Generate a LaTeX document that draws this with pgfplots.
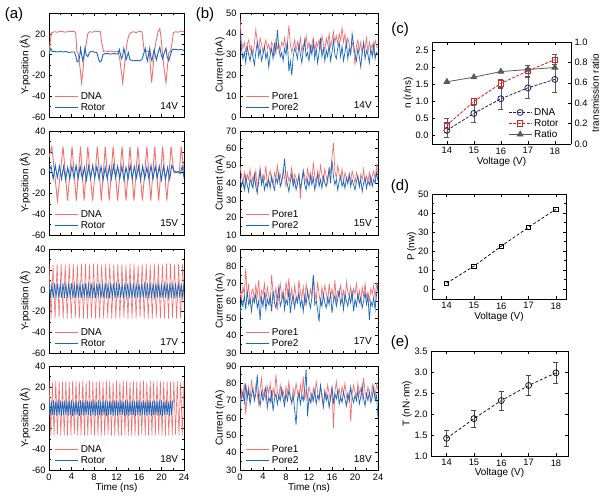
\documentclass[border=0pt]{standalone}
\usepackage{fontspec}
\setmainfont{Liberation Sans}
\usepackage{pgfplots}
\usepackage{pgfplotstable}
\pgfplotsset{compat=1.18}
\definecolor{dna}{RGB}{243,112,112}
\definecolor{rot}{RGB}{22,104,192}
\definecolor{cnavy}{RGB}{30,32,100}
\definecolor{cred}{RGB}{232,30,30}
\definecolor{cgray}{RGB}{90,90,90}
\newcommand{\tf}{\fontsize{9.3}{10}\selectfont}
\newcommand{\lf}{\fontsize{10}{11}\selectfont}

% ---- (a) dense series, sampled at regular steps ----
\pgfplotstableread[header=false,row sep=\\]{26\\-27\\25\\-27\\26\\-26\\26\\-27\\25\\-27\\26\\-27\\26\\-26\\25\\-27\\26\\-27\\26\\-27\\25\\-26\\26\\-27\\26\\-27\\25\\-27\\26\\-26\\26\\-27\\25\\-27\\26\\-27\\26\\-26\\25\\-27\\26\\-27\\26\\-27\\25\\-26\\26\\-27\\26\\-27\\25\\-27\\26\\-26\\26\\-27\\25\\-27\\26\\-27\\26\\-26\\25\\-27\\26\\-27\\26\\-27\\}\dnaC
\pgfplotstableread[header=false,row sep=\\]{26\\-27\\25\\-27\\26\\-26\\26\\-27\\25\\-27\\26\\-27\\25\\-27\\26\\-26\\26\\-27\\25\\-27\\26\\-27\\25\\-27\\26\\-26\\26\\-27\\25\\-27\\26\\-27\\25\\-27\\26\\-26\\26\\-27\\25\\-27\\26\\-27\\25\\-27\\26\\-26\\26\\-27\\25\\-27\\26\\-27\\25\\-27\\26\\-26\\26\\-27\\25\\-27\\26\\-27\\25\\-27\\26\\-26\\26\\-27\\25\\-27\\26\\-27\\25\\-27\\26\\-26\\26\\-27\\25\\-27\\26\\}\dnaD
\pgfplotstableread[header=false,row sep=\\]{2\\6\\-6\\7\\-5\\6\\-6\\6\\-7\\5\\-6\\6\\-5\\7\\-6\\6\\-6\\5\\-7\\6\\-6\\7\\-5\\6\\-6\\6\\-7\\5\\-6\\6\\-6\\7\\-5\\6\\-6\\6\\-7\\5\\-6\\7\\-6\\6\\-5\\6\\-7\\6\\-6\\5\\-6\\7\\-6\\6\\-5\\6\\-7\\6\\-6\\5\\-6\\7\\2\\0\\1\\-1\\6\\-6\\}\rotB
\pgfplotstableread[header=false,row sep=\\]{7\\-7\\6\\-7\\7\\-6\\7\\-7\\6\\-7\\7\\-7\\6\\-7\\7\\-6\\7\\-7\\6\\-7\\7\\-7\\6\\-7\\7\\-6\\7\\-7\\6\\-7\\7\\-7\\6\\-7\\7\\-6\\7\\-7\\6\\-7\\7\\-7\\6\\-7\\7\\-6\\7\\-7\\6\\-7\\7\\-7\\6\\-7\\7\\-6\\7\\-7\\6\\-7\\7\\-7\\6\\-7\\7\\-6\\7\\-7\\6\\-7\\7\\-7\\6\\-7\\7\\-6\\7\\-7\\6\\-7\\7\\-7\\6\\-7\\7\\-6\\7\\-7\\6\\-7\\7\\-7\\6\\-7\\7\\-6\\7\\}\rotC
\pgfplotstableread[header=false,row sep=\\]{7\\-8\\6\\-7\\7\\-7\\6\\-8\\7\\-7\\7\\-8\\6\\-7\\7\\-7\\6\\-8\\7\\-7\\7\\-8\\6\\-7\\7\\-7\\6\\-8\\7\\-7\\7\\-8\\6\\-7\\7\\-7\\6\\-8\\7\\-7\\7\\-8\\6\\-7\\7\\-7\\6\\-8\\7\\-7\\7\\-8\\6\\-7\\7\\-7\\6\\-8\\7\\-7\\7\\-8\\6\\-7\\7\\-7\\6\\-8\\7\\-7\\7\\-8\\6\\-7\\7\\-7\\6\\-8\\7\\-7\\7\\-8\\6\\-7\\7\\-7\\6\\-8\\7\\-7\\7\\-8\\6\\-7\\7\\-7\\6\\-8\\7\\-7\\7\\-8\\6\\-7\\7\\-7\\6\\-8\\7\\-7\\7\\}\rotD
% ---- (b) currents, step 0.25 ns ----
\pgfplotstableread[header=false,row sep=\\]{47\\36\\33\\36\\31\\35\\37\\32\\34\\30\\35\\42\\36\\33\\38\\35\\31\\34\\37\\33\\35\\31\\36\\34\\30\\37\\33\\35\\32\\36\\34\\38\\33\\36\\44\\35\\31\\34\\37\\32\\36\\33\\38\\31\\35\\34\\39\\33\\36\\31\\35\\38\\32\\36\\34\\37\\33\\39\\35\\32\\38\\35\\40\\34\\37\\41\\36\\39\\35\\40\\37\\43\\36\\40\\34\\38\\35\\31\\36\\33\\25\\34\\37\\32\\36\\30\\35\\33\\38\\31\\36\\33\\35\\31\\37\\34\\33\\}\pA
\pgfplotstableread[header=false,row sep=\\]{40\\33\\28\\31\\26\\34\\30\\27\\32\\29\\25\\31\\36\\29\\33\\27\\30\\34\\28\\31\\24\\30\\33\\28\\35\\31\\42\\33\\29\\31\\27\\33\\30\\36\\22\\27\\20\\29\\33\\31\\28\\35\\30\\26\\32\\37\\29\\31\\27\\34\\30\\36\\28\\33\\26\\31\\38\\29\\33\\27\\32\\29\\35\\27\\31\\37\\30\\28\\33\\36\\29\\34\\27\\31\\36\\28\\33\\30\\40\\35\\30\\27\\33\\29\\24\\31\\36\\28\\32\\30\\26\\33\\29\\35\\28\\31\\30\\}\qA
\pgfplotstableread[header=false,row sep=\\]{50\\44\\40\\46\\38\\45\\42\\48\\39\\44\\41\\47\\36\\43\\49\\40\\45\\42\\50\\38\\44\\47\\41\\39\\46\\43\\50\\42\\45\\40\\48\\43\\38\\46\\41\\44\\49\\40\\45\\43\\39\\46\\31\\42\\47\\44\\40\\48\\43\\46\\41\\52\\44\\39\\47\\42\\50\\45\\41\\48\\44\\40\\49\\46\\55\\63\\47\\43\\50\\45\\42\\48\\40\\46\\43\\39\\45\\41\\47\\44\\40\\46\\43\\38\\45\\42\\48\\40\\44\\41\\46\\39\\44\\47\\42\\50\\45\\}\pB
\pgfplotstableread[header=false,row sep=\\]{43\\38\\41\\36\\44\\39\\35\\42\\40\\37\\45\\38\\34\\41\\47\\39\\43\\36\\40\\38\\42\\37\\44\\39\\36\\43\\40\\46\\38\\41\\45\\54\\43\\39\\35\\41\\45\\38\\42\\36\\40\\44\\37\\41\\47\\39\\36\\42\\38\\44\\39\\43\\36\\41\\45\\38\\42\\37\\44\\40\\38\\43\\48\\40\\53\\44\\39\\42\\36\\41\\44\\38\\41\\37\\43\\40\\45\\38\\42\\39\\36\\41\\44\\38\\42\\35\\40\\43\\37\\41\\39\\44\\38\\42\\40\\46\\41\\}\qB
\pgfplotstableread[header=false,row sep=\\]{66\\60\\68\\64\\79\\62\\70\\58\\65\\67\\61\\69\\63\\72\\59\\66\\64\\70\\60\\68\\63\\57\\75\\65\\61\\68\\55\\64\\70\\62\\66\\59\\71\\64\\73\\61\\67\\58\\69\\63\\60\\72\\65\\62\\68\\57\\70\\64\\61\\67\\63\\75\\66\\60\\71\\64\\58\\68\\62\\69\\65\\59\\70\\63\\67\\61\\72\\60\\66\\64\\69\\62\\66\\58\\71\\65\\63\\68\\60\\67\\64\\70\\61\\66\\59\\68\\63\\70\\62\\65\\60\\67\\64\\69\\62\\70\\66\\}\pC
\pgfplotstableread[header=false,row sep=\\]{52\\60\\57\\63\\55\\66\\58\\61\\54\\62\\59\\64\\56\\60\\49\\62\\57\\65\\55\\61\\58\\63\\54\\66\\59\\56\\62\\68\\57\\60\\64\\55\\61\\58\\67\\53\\60\\63\\56\\62\\59\\65\\57\\61\\54\\63\\58\\66\\60\\56\\62\\75\\58\\60\\55\\48\\61\\57\\64\\59\\56\\62\\58\\65\\53\\60\\63\\57\\61\\66\\58\\62\\55\\64\\60\\57\\63\\59\\66\\54\\61\\57\\64\\59\\62\\56\\60\\65\\58\\63\\49\\60\\57\\62\\55\\64\\70\\}\qC
\pgfplotstableread[header=false,row sep=\\]{68\\76\\72\\80\\62\\74\\78\\70\\82\\75\\71\\79\\74\\68\\77\\83\\72\\76\\70\\78\\74\\80\\69\\77\\73\\85\\75\\71\\79\\73\\76\\70\\78\\74\\81\\72\\68\\77\\73\\80\\75\\71\\79\\73\\84\\70\\76\\72\\78\\74\\69\\77\\73\\81\\75\\70\\78\\74\\65\\76\\72\\79\\74\\70\\78\\54\\75\\81\\73\\77\\71\\78\\74\\80\\73\\69\\76\\58\\74\\79\\75\\72\\80\\74\\77\\71\\83\\75\\72\\78\\74\\70\\79\\75\\72\\80\\76\\}\pD
\pgfplotstableread[header=false,row sep=\\]{65\\72\\75\\69\\80\\71\\76\\68\\73\\77\\70\\74\\85\\71\\67\\75\\70\\73\\78\\66\\72\\69\\76\\64\\71\\74\\68\\73\\70\\77\\71\\67\\74\\70\\76\\72\\69\\73\\65\\56\\71\\75\\68\\73\\70\\77\\88\\61\\72\\69\\74\\70\\76\\68\\73\\71\\79\\72\\67\\75\\70\\73\\66\\72\\78\\69\\74\\71\\76\\68\\72\\69\\75\\71\\67\\74\\70\\78\\72\\69\\73\\70\\76\\68\\72\\79\\71\\67\\74\\70\\75\\69\\72\\78\\70\\73\\60\\}\qD

\pgfplotsset{
  base/.style={scale only axis, anchor=north west,
    axis line style={line width=0.7pt},
    tick align=inside, major tick length=3pt, minor tick length=1.6pt,
    every tick/.style={black, line width=0.5pt},
    tick label style={font=\tf}, label style={font=\lf},
    /pgf/number format/assume math mode=true, legend cell align=left},
  ts/.style={base, width=135pt, height=104pt, xmin=0, xmax=24,
    xtick={0,4,...,24}, minor x tick num=1, minor y tick num=1,
    legend style={draw=none, fill=none, font=\lf, at={(axis description cs:0.03,0.02)},
      anchor=south west, inner sep=1pt, row sep=-1.5pt},
    legend image code/.code={\draw[##1, line width=1.5pt] (0pt,0pt)--(23pt,0pt);},
    ylabel style={at={(axis description cs:-0.178,0.5)}, anchor=center},
    xlabel style={at={(axis description cs:0.5,-0.175)}, anchor=center}},
  tsb/.style={ts, width=138pt, ylabel style={at={(axis description cs:-0.145,0.5)}, anchor=center}},
  nox/.style={xticklabels={}},
  vt/.style={base, xtick={14,...,18},
    xlabel style={at={(axis description cs:0.5,-0.17)}, anchor=center}},
}

\begin{document}
\begin{tikzpicture}
\path[use as bounding box] (0pt,0pt) rectangle (601pt,499pt);

% ================= (a) =================
\begin{axis}[ts, nox, at={(49pt,486pt)}, ymin=-60, ymax=40, ytick={-60,-40,-20,0,20}, ylabel={Y-position (Å)}]
\addplot[dna, line width=0.9pt] coordinates {(0,0)(0.2,12)(0.45,21)(1,22)(1.5,21.5)(2,22.5)(2.5,22)(3,21.5)(3.5,22.5)(4,22)(4.5,22.5)(4.75,21)(4.95,3)(5.2,1)(5.5,-12)(5.8,-27)(6.05,-15)(6.3,2)(6.6,10)(6.9,20)(7.2,22)(7.7,21.5)(8.2,22.5)(8.7,22)(9.1,22.5)(9.35,12)(9.7,3)(10,3.5)(10.5,3)(11,3.5)(11.5,2.5)(12,3)(12.3,3)(12.6,-5)(12.9,-18)(13.1,-27)(13.35,-15)(13.6,0)(13.9,12)(14.2,19)(14.5,21)(15,22)(15.5,21)(16,22.5)(16.5,22)(16.75,12)(16.9,4)(17.2,4)(17.5,3)(17.8,3)(18.0,-10)(18.25,-27)(18.5,-12)(18.8,5)(19.1,15)(19.4,22)(19.7,25)(19.95,15)(20.2,0)(20.5,-15)(20.8,-27)(21.05,-12)(21.3,2)(21.6,3)(21.9,12)(22.1,21)(22.5,22)(23,21.5)(23.5,22.5)(24,22)};
\addlegendentry{DNA}
\addplot[rot, line width=0.9pt] coordinates {(0,0)(0.3,6)(0.6,3)(1,3)(1.5,2.5)(2,3)(2.5,2.5)(3,3)(3.5,2)(4,2.5)(4.5,2.5)(4.8,-2)(5.0,-7)(5.3,-6)(5.5,0)(5.6,6)(5.8,0)(6.0,-6)(6.2,-1)(6.4,6)(6.6,0)(6.9,-2)(7.2,2)(7.5,3)(8,2.5)(8.5,2)(8.8,-4)(9.0,-7)(9.3,-6)(9.6,0)(10,1)(10.5,1)(11,0.5)(11.5,1)(12,0.5)(12.3,1)(12.5,5)(12.7,0)(12.9,-4)(13.1,-1)(13.3,6)(13.5,1)(13.7,-5)(13.9,-2)(14.1,2)(14.4,-5)(15,-6)(15.5,-5.5)(16,-6)(16.5,-5)(16.8,0)(17.1,6)(17.3,-2)(17.5,-6)(17.7,0)(17.9,6)(18.1,-2)(18.3,-6)(18.5,0)(18.7,5)(18.9,-1)(19.1,-5)(19.4,2)(19.7,7)(19.95,0)(20.2,-4)(20.5,2)(20.8,6)(21.0,-2)(21.3,-6)(21.6,0)(21.9,5)(22.5,5)(23,4.5)(23.5,5)(24,4)};
\addlegendentry{Rotor}
\node[font=\lf] at (rel axis cs:0.89,0.11) {14V};
\end{axis}

\begin{axis}[ts, nox, at={(49pt,368pt)}, ymin=-60, ymax=40, ytick={-60,-40,...,40}, ylabel={Y-position (Å)}]
\addplot[dna, line width=0.9pt] coordinates {(0,15)(0.5,25)(1.5,-27)(2.5,25)(3.3,-27)(4.1,25)(4.85,-27)(5.6,25)(6.25,-27)(6.9,25)(7.75,-27)(8.6,25)(9.3,-27)(10.0,25)(10.7,-27)(11.4,25)(12.2,-27)(13.0,25)(13.7,-27)(14.4,25)(15.1,-27)(15.8,25)(16.6,-27)(17.4,25)(18.1,-27)(18.8,25)(19.5,-27)(20.2,25)(20.95,-27)(21.7,25)(22.2,0)(22.6,1)(23.0,0)(23.2,2)(23.5,25)(24,0)};
\addlegendentry{DNA}
\addplot[rot, line width=0.9pt] table[x expr=\coordindex*0.37, y index=0] {\rotB};
\addlegendentry{Rotor}
\node[font=\lf] at (rel axis cs:0.89,0.11) {15V};
\end{axis}

\begin{axis}[ts, nox, at={(49pt,250pt)}, ymin=-60, ymax=40, ytick={-60,-40,...,40}, ylabel={Y-position (Å)}]
\addplot[dna, line width=0.6pt] table[x expr=\coordindex*0.36, y index=0] {\dnaC};
\addlegendentry{DNA}
\addplot[rot, line width=0.7pt] table[x expr=\coordindex*0.25, y index=0] {\rotC};
\addlegendentry{Rotor}
\node[font=\lf] at (rel axis cs:0.89,0.11) {17V};
\end{axis}

\begin{axis}[ts, at={(49pt,133pt)}, ymin=-60, ymax=40, ytick={-60,-40,...,40}, ylabel={Y-position (Å)}, xlabel={Time (ns)}]
\addplot[dna, line width=0.6pt] table[x expr=\coordindex*0.3, y index=0] {\dnaD};
\addlegendentry{DNA}
\addplot[rot, line width=0.7pt] table[x expr=\coordindex*0.2, y index=0] {\rotD};
\addlegendentry{Rotor}
\node[font=\lf] at (rel axis cs:0.89,0.11) {18V};
\end{axis}

% ================= (b) =================
\begin{axis}[tsb, nox, at={(240pt,486pt)}, ymin=0, ymax=50, ytick={0,10,...,50}, ylabel={Current (nA)}]
\addplot[dna, line width=0.7pt] table[x expr=\coordindex*0.25, y index=0] {\pA};
\addlegendentry{Pore1}
\addplot[rot, line width=0.7pt] table[x expr=\coordindex*0.25, y index=0] {\qA};
\addlegendentry{Pore2}
\node[font=\lf] at (rel axis cs:0.89,0.11) {14V};
\end{axis}

\begin{axis}[tsb, nox, at={(240pt,368pt)}, ymin=10, ymax=70, ytick={10,20,...,70}, ylabel={Current (nA)}]
\addplot[dna, line width=0.7pt] table[x expr=\coordindex*0.25, y index=0] {\pB};
\addlegendentry{Pore1}
\addplot[rot, line width=0.7pt] table[x expr=\coordindex*0.25, y index=0] {\qB};
\addlegendentry{Pore2}
\node[font=\lf] at (rel axis cs:0.89,0.11) {15V};
\end{axis}

\begin{axis}[tsb, nox, at={(240pt,250pt)}, ymin=30, ymax=90, ytick={30,40,...,90}, ylabel={Current (nA)}]
\addplot[dna, line width=0.7pt] table[x expr=\coordindex*0.25, y index=0] {\pC};
\addlegendentry{Pore1}
\addplot[rot, line width=0.7pt] table[x expr=\coordindex*0.25, y index=0] {\qC};
\addlegendentry{Pore2}
\node[font=\lf] at (rel axis cs:0.89,0.11) {17V};
\end{axis}

\begin{axis}[tsb, at={(240pt,133pt)}, ymin=30, ymax=90, ytick={30,40,...,90}, ylabel={Current (nA)}, xlabel={Time (ns)}]
\addplot[dna, line width=0.7pt] table[x expr=\coordindex*0.25, y index=0] {\pD};
\addlegendentry{Pore1}
\addplot[rot, line width=0.7pt] table[x expr=\coordindex*0.25, y index=0] {\qD};
\addlegendentry{Pore2}
\node[font=\lf] at (rel axis cs:0.89,0.11) {18V};
\end{axis}

% ================= (c) =================
\begin{axis}[vt, at={(432pt,457pt)}, width=139pt, height=102pt,
  xmin=13.45, xmax=18.6, ymin=-0.25, ymax=2.75, ytick={0,0.5,...,2.5},
  yticklabel style={/pgf/number format/.cd, fixed, fixed zerofill, precision=1},
  axis y line*=left, ylabel={n (r/ns)}, xlabel={Voltage (V)},
  ylabel style={at={(axis description cs:-0.17,0.5)}, anchor=center},
  xlabel style={at={(axis description cs:0.5,-0.175)}, anchor=center}]
\addplot[cnavy, line width=0.8pt, dash pattern=on 3pt off 1.5pt, mark=o, mark size=3pt, mark options={solid},
  error bars/.cd, y dir=both, y explicit, error bar style={black!65, line width=0.6pt, solid},
  error mark options={rotate=90, black!65, mark size=2.5pt, line width=0.6pt}]
  coordinates {(14,0.15) +- (0,0.2) (15,0.65) +- (0,0.25) (16,1.08) +- (0,0.32) (17,1.40) +- (0,0.3) (18,1.65) +- (0,0.37)};
\addplot[cred, line width=0.8pt, dash pattern=on 3pt off 1.5pt, mark=square, mark size=2.7pt, mark options={solid},
  error bars/.cd, y dir=both, y explicit, error bar style={black!65, line width=0.6pt, solid},
  error mark options={rotate=90, black!65, mark size=2.5pt, line width=0.6pt}]
  coordinates {(14,0.30) +- (0,0.22) (15,1.00) +- (0,0.1) (16,1.53) +- (0,0.12) (17,1.90) +- (0,0.15) (18,2.23) +- (0,0.15)};
\end{axis}
\begin{axis}[base, at={(432pt,457pt)}, width=139pt, height=102pt,
  xmin=13.45, xmax=18.6, ymin=0, ymax=1, ytick={0,0.2,...,1.0},
  yticklabel style={/pgf/number format/.cd, fixed, fixed zerofill, precision=1},
  axis y line*=right, axis x line=none, ylabel={transmission ratio},
  ylabel style={at={(axis description cs:1.175,0.5)}, anchor=center},
  legend style={draw=none, fill=none, font=\lf, at={(axis description cs:0.54,0.02)}, anchor=south west, inner sep=1pt, row sep=-1.5pt},
  legend image code/.code={\draw[mark repeat=2, mark phase=2, #1] plot coordinates {(0pt,0pt)(11.5pt,0pt)(23pt,0pt)};}]
\addlegendimage{cnavy, line width=0.8pt, dash pattern=on 3pt off 1.5pt, mark=o, mark size=3pt, mark options={solid}}
\addlegendentry{DNA}
\addlegendimage{cred, line width=0.8pt, dash pattern=on 3pt off 1.5pt, mark=square, mark size=2.7pt, mark options={solid}}
\addlegendentry{Rotor}
\addplot[cgray, line width=0.8pt, mark=triangle*, mark size=3.3pt] coordinates {(14,0.61)(15,0.655)(16,0.71)(17,0.73)(18,0.75)};
\addlegendentry{Ratio}
\end{axis}

% ================= (d) =================
\begin{axis}[vt, at={(432pt,305pt)}, width=134pt, height=105pt,
  xmin=13.47, xmax=18.37, ymin=-5.3, ymax=50, ytick={0,10,...,50}, minor y tick num=1,
  ylabel={P (nw)}, xlabel={Voltage (V)},
  ylabel style={at={(axis description cs:-0.15,0.5)}, anchor=center}]
\addplot[black, line width=0.7pt, dash pattern=on 3pt off 2pt, mark=square, mark size=2.3pt, mark options={solid}]
  coordinates {(14,3)(15,12)(16,22.5)(17,32.5)(18,42)};
\end{axis}

% ================= (e) =================
\begin{axis}[vt, at={(431pt,148pt)}, width=137pt, height=105pt,
  xmin=13.43, xmax=18.44, ymin=1.0, ymax=3.5, ytick={1.0,1.5,...,3.5},
  yticklabel style={/pgf/number format/.cd, fixed, fixed zerofill, precision=1},
  ylabel={T (nN·nm)}, xlabel={Voltage (V)},
  ylabel style={at={(axis description cs:-0.175,0.5)}, anchor=center},
  xlabel style={at={(axis description cs:0.5,-0.162)}, anchor=center}]
\addplot[black, line width=0.7pt, dash pattern=on 3pt off 2pt, mark=o, mark size=3pt, mark options={solid},
  error bars/.cd, y dir=both, y explicit, error bar style={black!70, line width=0.6pt, solid},
  error mark options={rotate=90, black!70, mark size=2.5pt, line width=0.6pt}]
  coordinates {(14,1.42) +- (0,0.2) (15,1.89) +- (0,0.21) (16,2.32) +- (0,0.22) (17,2.68) +- (0,0.23) (18,2.98) +- (0,0.25)};
\end{axis}

% ================= panel labels =================
\node[font=\fontsize{15}{16}\selectfont] at (14pt,484pt) {(a)};
\node[font=\fontsize{15}{16}\selectfont] at (205pt,484pt) {(b)};
\node[font=\fontsize{15}{16}\selectfont] at (400pt,469pt) {(c)};
\node[font=\fontsize{15}{16}\selectfont] at (400pt,312pt) {(d)};
\node[font=\fontsize{15}{16}\selectfont] at (400pt,156pt) {(e)};
\end{tikzpicture}
\end{document}
